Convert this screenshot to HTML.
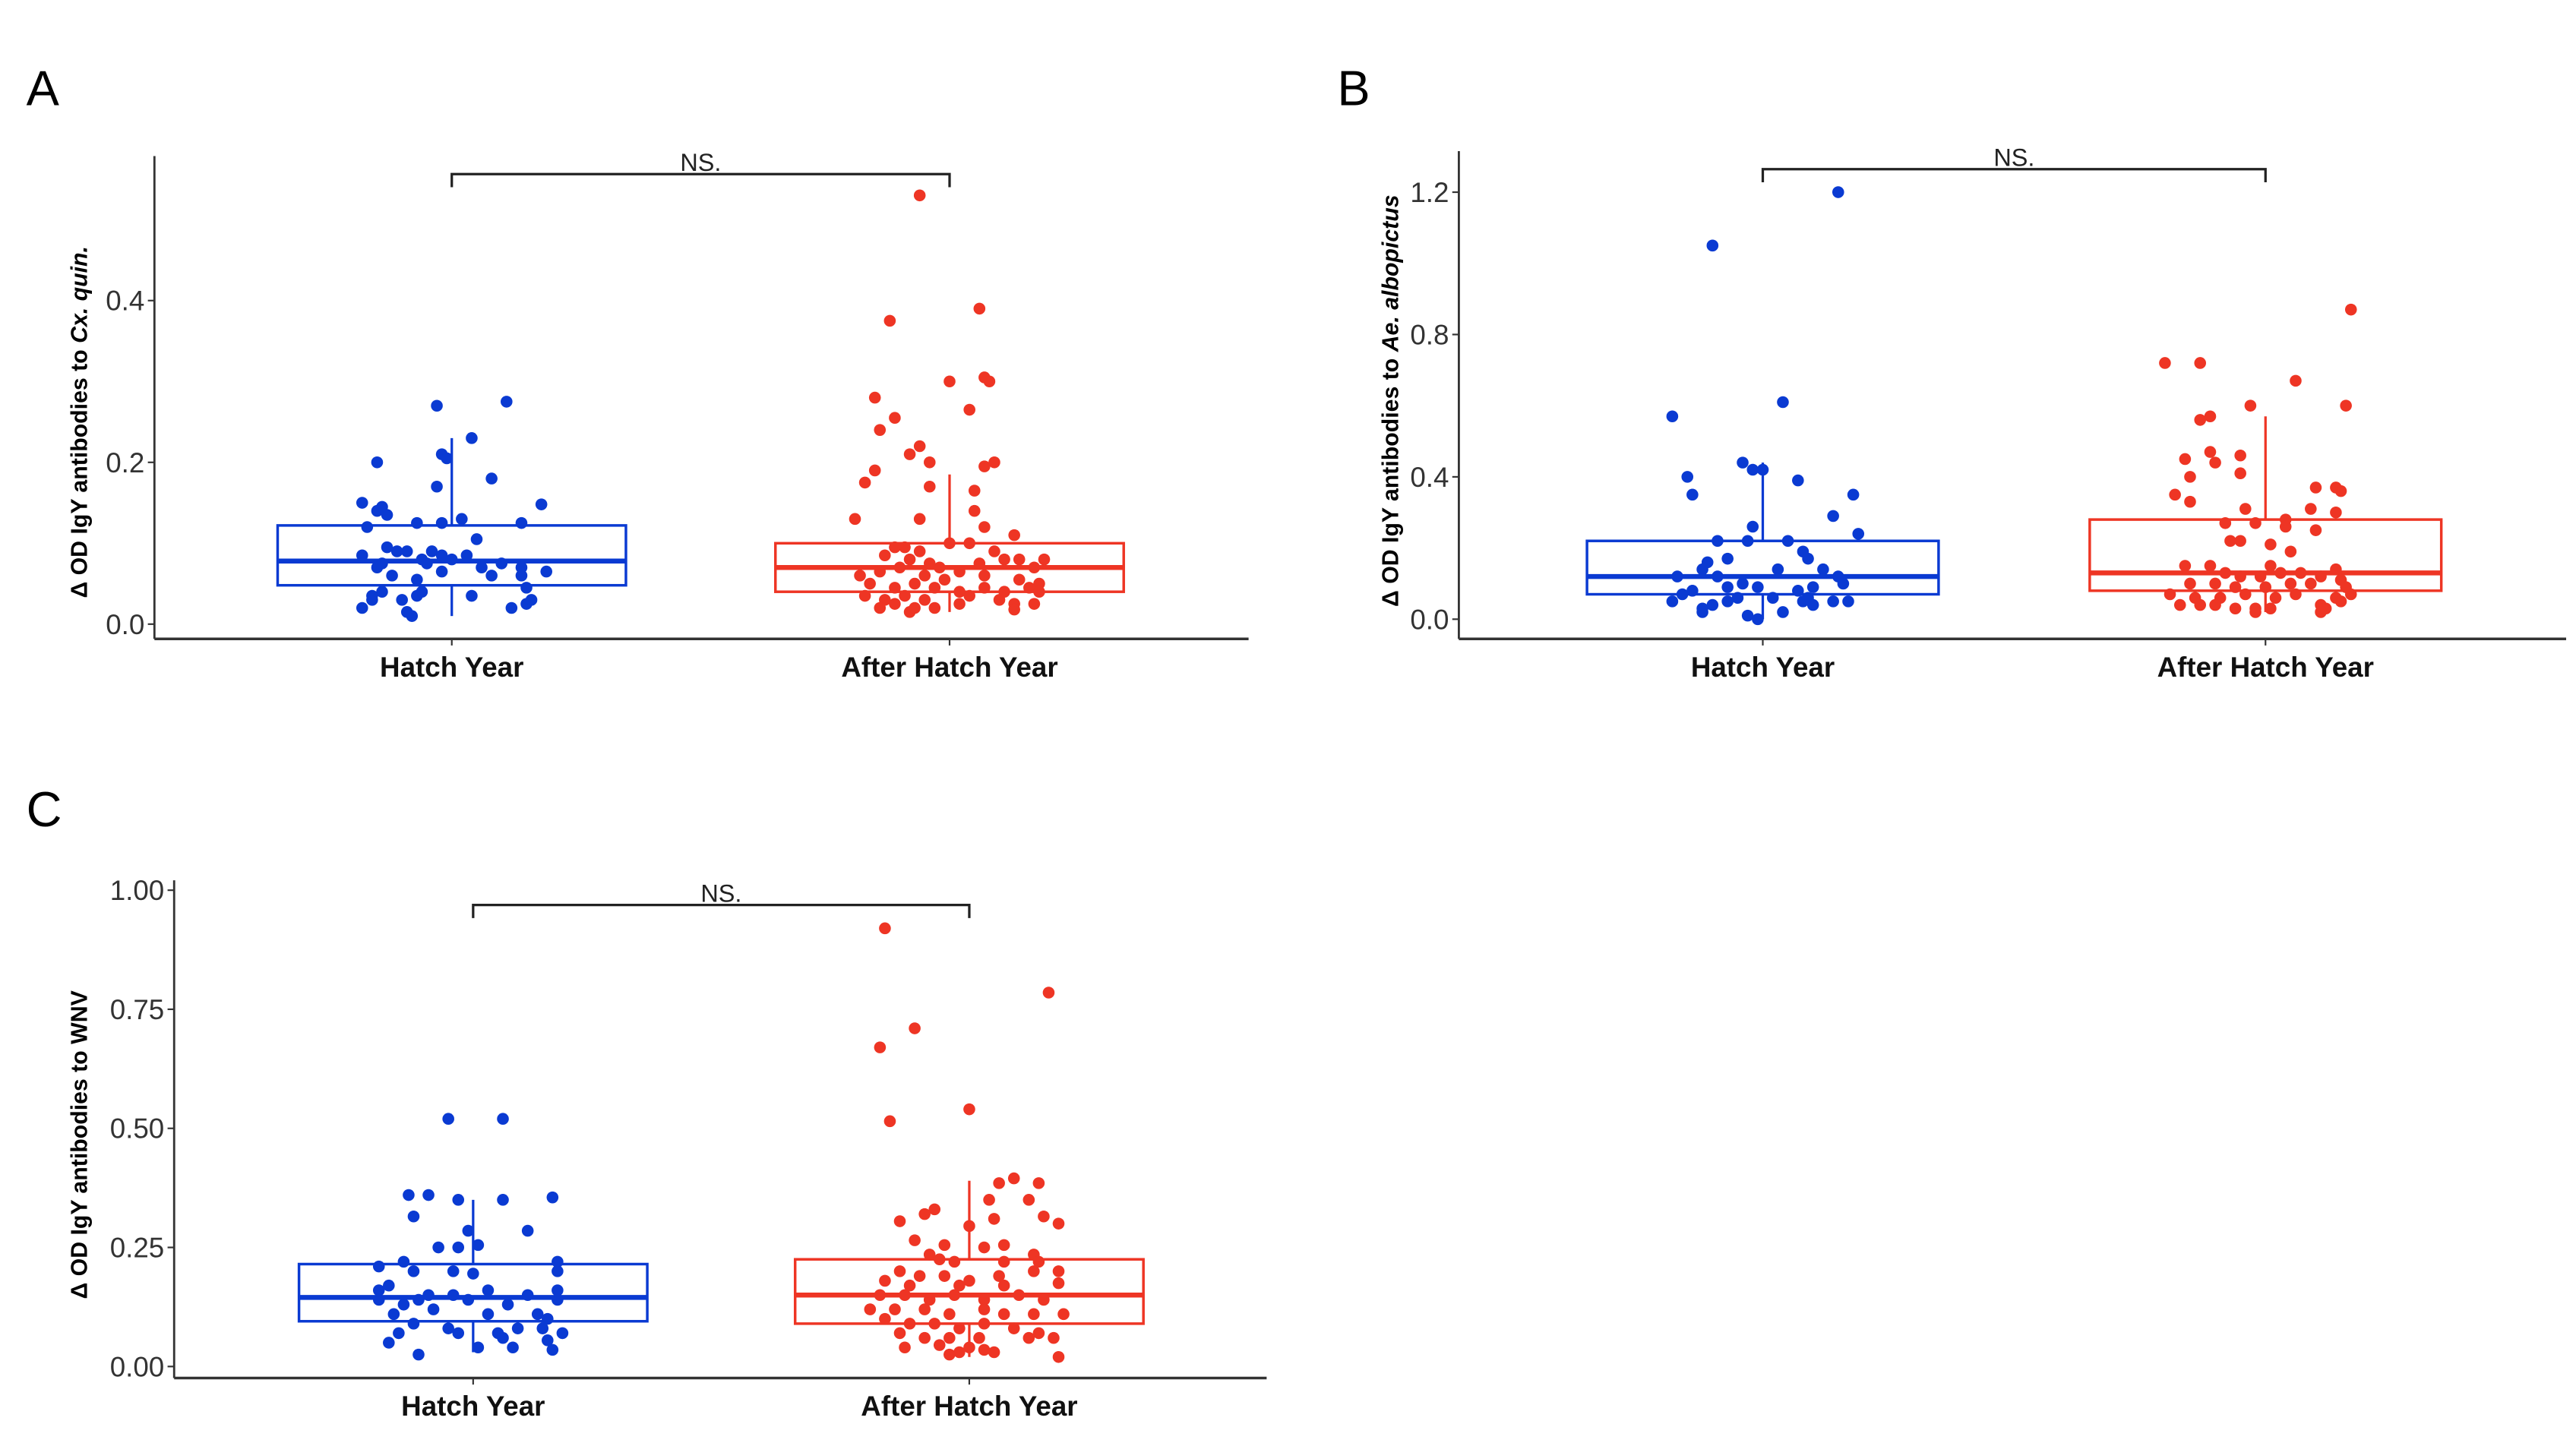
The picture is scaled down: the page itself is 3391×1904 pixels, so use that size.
<!DOCTYPE html>
<html><head><meta charset="utf-8"><style>
html,body{margin:0;padding:0;background:#fff;}
svg{display:block;}
text{font-family:"Liberation Sans Narrow","Liberation Sans",sans-serif;}
</style></head><body>
<svg id="fig" width="3391" height="1904" viewBox="0 0 1568 880.4" preserveAspectRatio="none" xmlns="http://www.w3.org/2000/svg"></svg>
<script>
// ===== Data =====
const categories = ["Hatch Year","After Hatch Year"];
// Panel A (Cx. quin.)
const ticksA = [0.0,0.2,0.4];
const tickLabelsA = ["0.0","0.2","0.4"];
const boxA_HY = [0.01,0.048,0.078,0.122,0.23];
const boxA_AHY = [0.015,0.04,0.07,0.1,0.185];
const hyA = [[-3,.27],[11,.275],[4,.23],[-2,.21],[-1,.205],[-15,.2],[-3,.17],[8,.18],[-18,.15],[-15,.14],[-14,.145],[-13,.135],[18,.148],[-7,.125],[-2,.125],[2,.13],[14,.125],[-17,.12],[5,.105],[-13,.095],[-11,.09],[-9,.09],[-6,.08],[-4,.09],[-2,.085],[0,.08],[3,.085],[6,.07],[10,.075],[14,.07],[-18,.085],[-15,.07],[-12,.06],[-2,.065],[8,.06],[14,.06],[19,.065],[15,.045],[-16,.035],[-14,.04],[-10,.03],[-7,.035],[-6,.04],[4,.035],[12,.02],[15,.025],[16,.03],[-18,.02],[-9,.015],[-8,.01],[-16,.03],[-14,.075],[-5,.075],[-7,.055]];
const ahyA = [[-6,.53],[6,.39],[-12,.375],[0,.3],[7,.305],[8,.3],[-15,.28],[4,.265],[-11,.255],[-14,.24],[-6,.22],[-8,.21],[-4,.2],[9,.2],[7,.195],[-15,.19],[-17,.175],[-4,.17],[5,.165],[5,.14],[-6,.13],[-19,.13],[7,.12],[13,.11],[-11,.095],[-9,.095],[-6,.09],[0,.1],[4,.1],[9,.09],[11,.08],[14,.08],[19,.08],[-13,.085],[-8,.08],[-4,.075],[-2,.07],[2,.065],[6,.075],[17,.07],[-18,.06],[-14,.065],[-10,.07],[-5,.06],[-1,.055],[7,.06],[14,.055],[18,.05],[-16,.05],[-11,.045],[-7,.05],[-3,.045],[2,.04],[7,.045],[11,.04],[16,.045],[-17,.035],[-13,.03],[-9,.035],[-5,.03],[4,.035],[10,.03],[13,.025],[18,.04],[-14,.02],[-11,.025],[-8,.015],[-7,.02],[-3,.02],[2,.025],[13,.018],[17,.025]];
// Panel B (Ae. albopictus)
const ticksB = [0.0,0.4,0.8,1.2];
const tickLabelsB = ["0.0","0.4","0.8","1.2"];
const boxB_HY = [0.0,0.07,0.12,0.22,0.44];
const boxB_AHY = [0.02,0.08,0.13,0.28,0.57];
const hyB = [[15,1.2],[-10,1.05],[4,.61],[-18,.57],[-4,.44],[-2,.42],[0,.42],[-15,.4],[7,.39],[-14,.35],[18,.35],[14,.29],[-2,.26],[19,.24],[-9,.22],[-3,.22],[5,.22],[8,.19],[9,.17],[-7,.17],[-11,.16],[-12,.14],[3,.14],[12,.14],[-17,.12],[-9,.12],[-4,.1],[15,.12],[16,.1],[-14,.08],[-7,.09],[-1,.09],[7,.08],[10,.09],[-16,.07],[-5,.06],[2,.06],[9,.06],[14,.05],[-18,.05],[-10,.04],[-7,.05],[8,.05],[10,.04],[17,.05],[-12,.02],[-12,.03],[-3,.01],[-1,0.0],[4,.02]];
const ahyB = [[17,.87],[-20,.72],[-13,.72],[6,.67],[-3,.6],[16,.6],[-11,.57],[-13,.56],[-11,.47],[-5,.46],[-10,.44],[-16,.45],[-15,.4],[-5,.41],[-18,.35],[10,.37],[14,.37],[15,.36],[-15,.33],[-4,.31],[9,.31],[14,.3],[4,.28],[-2,.27],[-8,.27],[4,.26],[10,.25],[-7,.22],[-5,.22],[1,.21],[5,.19],[1,.15],[-16,.15],[-11,.15],[-8,.13],[-5,.12],[-1,.12],[3,.13],[7,.13],[11,.12],[14,.14],[15,.11],[-15,.1],[-10,.1],[-6,.09],[0,.09],[5,.1],[9,.1],[16,.09],[-19,.07],[-14,.06],[-9,.06],[-4,.07],[2,.06],[6,.07],[14,.06],[17,.07],[-17,.04],[-13,.04],[-10,.04],[-6,.03],[-2,.03],[1,.03],[11,.04],[12,.03],[15,.05],[-2,.02],[11,.02]];
// Panel C (WNV)
const ticksC = [0.0,0.25,0.5,0.75,1.0];
const tickLabelsC = ["0.00","0.25","0.50","0.75","1.00"];
const boxC_HY = [0.03,0.095,0.145,0.215,0.35];
const boxC_AHY = [0.02,0.09,0.15,0.225,0.39];
const hyC = [[-5,.52],[6,.52],[-13,.36],[-9,.36],[-3,.35],[6,.35],[16,.355],[-12,.315],[-1,.285],[11,.285],[-7,.25],[-3,.25],[1,.255],[17,.22],[-19,.21],[-14,.22],[-12,.2],[-4,.2],[17,.2],[0,.195],[-17,.17],[-19,.16],[-9,.15],[-4,.15],[3,.16],[11,.15],[17,.16],[-19,.14],[-14,.13],[-11,.14],[-8,.12],[-1,.14],[7,.13],[17,.14],[-16,.11],[3,.11],[13,.11],[15,.1],[-12,.09],[-5,.08],[-3,.07],[9,.08],[14,.08],[5,.07],[18,.07],[-15,.07],[-17,.05],[6,.06],[15,.055],[1,.04],[8,.04],[16,.035],[-11,.025]];
const ahyC = [[-17,.92],[16,.785],[-11,.71],[-18,.67],[0,.54],[-16,.515],[9,.395],[6,.385],[14,.385],[4,.35],[12,.35],[-7,.33],[-9,.32],[-14,.305],[5,.31],[15,.315],[18,.3],[0,.295],[-11,.265],[-5,.255],[7,.255],[3,.25],[-8,.235],[13,.235],[-6,.225],[-3,.22],[7,.22],[14,.22],[-14,.2],[-10,.19],[-5,.19],[0,.18],[6,.19],[13,.2],[18,.2],[-17,.18],[-12,.17],[-2,.17],[7,.17],[18,.175],[-18,.15],[-13,.15],[-8,.14],[-3,.15],[3,.14],[10,.15],[15,.14],[-20,.12],[-15,.12],[-9,.12],[-4,.11],[3,.12],[7,.11],[13,.11],[19,.11],[-17,.1],[-12,.09],[-7,.09],[-2,.08],[3,.09],[9,.08],[14,.07],[-14,.07],[-9,.06],[-4,.06],[2,.06],[12,.06],[17,.06],[-13,.04],[-6,.045],[0,.04],[3,.035],[-2,.03],[-4,.025],[5,.03],[18,.02]];

// ===== Layout =====
const NS="http://www.w3.org/2000/svg";
const svg=document.getElementById('fig');
function mk(tag,attrs,parent){const e=document.createElementNS(NS,tag);for(const k in attrs)e.setAttribute(k,attrs[k]);(parent||svg).appendChild(e);return e;}
const BLUE="#0a3ad2", RED="#ee3524";
const panels=[
 {id:'a',letter:'A',lx:16,ly:64,axX:94,axTop:95,axBot:389,axRight:760,y0:380,yPerUnit:(380-183)/0.4,cx:[275,578],spacing:303,halfW:106,brY:106,brDrop:8,ticks:ticksA,labels:tickLabelsA,boxes:[boxA_HY,boxA_AHY],pts:[hyA,ahyA],titleX:53,titleY:257,sp:'Cx. quin.'},
 {id:'b',letter:'B',lx:814,ly:64,axX:888,axTop:92,axBot:389,axRight:1562,y0:377,yPerUnit:(377-117)/1.2,cx:[1073,1379],spacing:306,halfW:107,brY:103,brDrop:8,ticks:ticksB,labels:tickLabelsB,boxes:[boxB_HY,boxB_AHY],pts:[hyB,ahyB],titleX:851,titleY:244,sp:'Ae. albopictus'},
 {id:'c',letter:'C',lx:16,ly:503,axX:106,axTop:536,axBot:839,axRight:771,y0:832,yPerUnit:(832-542)/1.0,cx:[288,590],spacing:302,halfW:106,brY:551,brDrop:8,ticks:ticksC,labels:tickLabelsC,boxes:[boxC_HY,boxC_AHY],pts:[hyC,ahyC],titleX:53,titleY:697,sp:null}
];
panels.forEach(p=>{
  const g=mk('g',{});
  
  
  const yS=v=>p.y0-v*p.yPerUnit;
  const L=mk('text',{x:p.lx,y:p.ly,'font-size':30,fill:'#000','font-family':'Liberation Sans, sans-serif'},g);L.textContent=p.letter;
  
  
  const ya=mk('line',{x1:p.axX,y1:p.axTop,x2:p.axX,y2:p.axBot,stroke:'#333','stroke-width':1.3},g);
  
  
  const xa=mk('line',{x1:p.axX,y1:p.axBot,x2:p.axRight,y2:p.axBot,stroke:'#333','stroke-width':1.6},g);
  
  
  p.ticks.forEach((t,i)=>{
    const y=yS(t);
    mk('line',{x1:p.axX-4,y1:y,x2:p.axX,y2:y,stroke:'#333','stroke-width':1},g);
    const tl=mk('text',{x:p.axX-6,y:y+6,'font-size':17,'text-anchor':'end',fill:'#333'},g);tl.textContent=p.labels[i];
    
    
  });
  categories.forEach((c,i)=>{
    mk('line',{x1:p.cx[i],y1:p.axBot,x2:p.cx[i],y2:p.axBot+4,stroke:'#333','stroke-width':1},g);
    const ct=mk('text',{x:p.cx[i],y:p.axBot+23,'font-size':17,'font-weight':'bold','text-anchor':'middle',fill:'#111','font-family':'Liberation Sans, sans-serif'},g);ct.textContent=c;
    
    
  });
  const tt=mk('text',{x:0,y:0,'font-size':14,'font-weight':'bold','text-anchor':'middle',fill:'#000','font-family':'Liberation Sans, sans-serif',transform:`translate(${p.titleX},${p.titleY}) rotate(-90)`},g);
  
  
  tt.appendChild(document.createTextNode('Δ OD IgY antibodies to '+(p.sp?'':'WNV')));
  if(p.sp){const ts=mk('tspan',{'font-style':'italic'},tt);ts.textContent=p.sp;}
  [BLUE,RED].forEach((col,i)=>{
    const b=p.boxes[i], cx=p.cx[i];
    const bg=mk('g',{},g);
    
    
    mk('line',{x1:cx,y1:yS(b[4]),x2:cx,y2:yS(b[3]),stroke:col,'stroke-width':1.5},bg);
    mk('line',{x1:cx,y1:yS(b[1]),x2:cx,y2:yS(b[0]),stroke:col,'stroke-width':1.5},bg);
    mk('rect',{x:cx-p.halfW,y:yS(b[3]),width:2*p.halfW,height:yS(b[1])-yS(b[3]),fill:'none',stroke:col,'stroke-width':1.6},bg);
    mk('line',{x1:cx-p.halfW,y1:yS(b[2]),x2:cx+p.halfW,y2:yS(b[2]),stroke:col,'stroke-width':3},bg);
    p.pts[i].forEach(pt=>{
      const c=mk('circle',{cx:cx+pt[0]/100*p.spacing,cy:yS(pt[1]),r:3.6,fill:col},bg);
      
      
    });
  });
  const br=mk('path',{d:`M${p.cx[0]},${p.brY+p.brDrop} V${p.brY} H${p.cx[1]} V${p.brY+p.brDrop}`,fill:'none',stroke:'#222','stroke-width':1.5},g);
  
  
  const ns=mk('text',{x:(p.cx[0]+p.cx[1])/2,y:p.brY-2,'font-size':15,'text-anchor':'middle',fill:'#222'},g);ns.textContent='NS.';
  
  
});
</script>
</body></html>
